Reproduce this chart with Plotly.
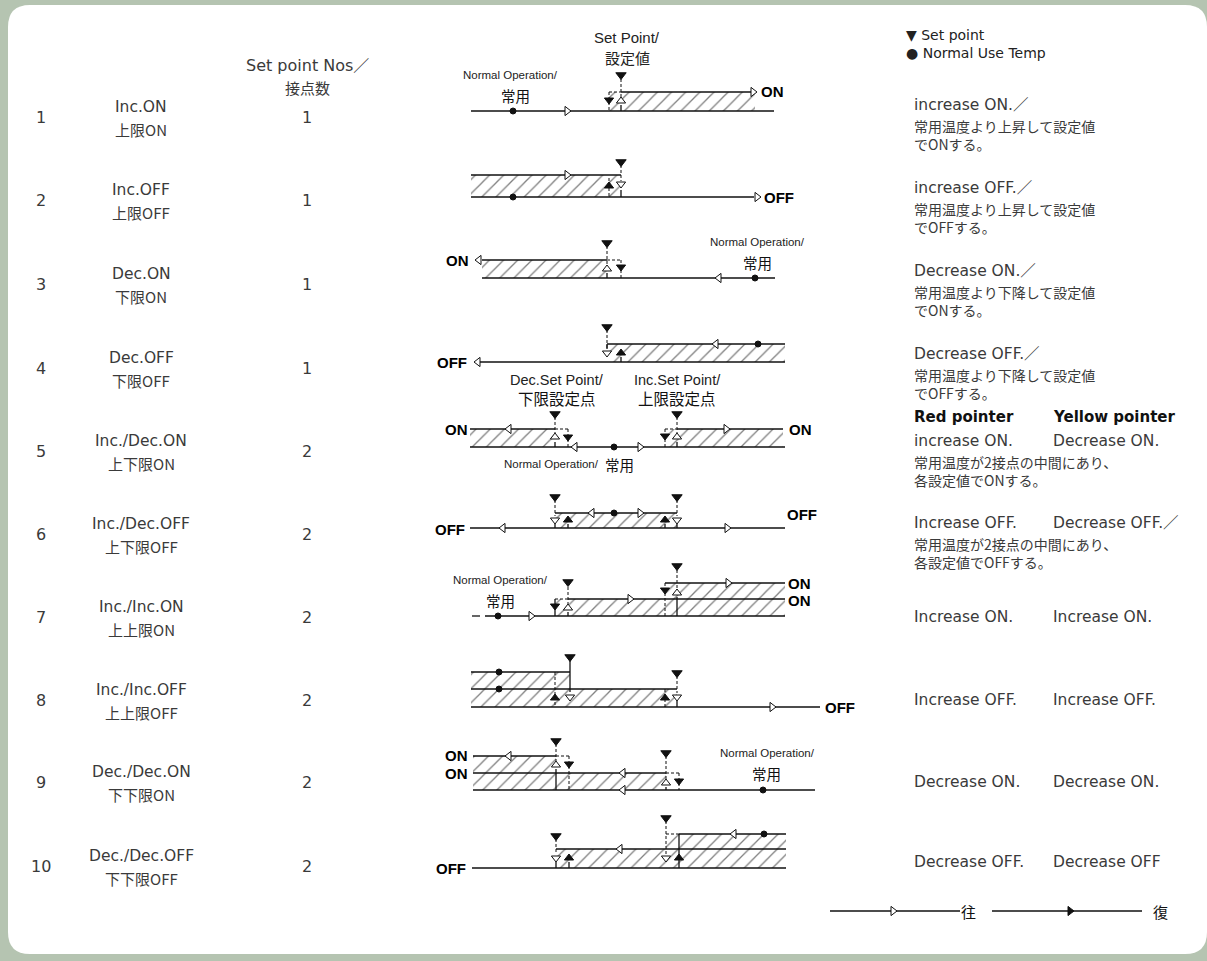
import plotly.graph_objects as go

# ---------------- table data ----------------
row_nos = [1, 2, 3, 4, 5, 6, 7, 8, 9, 10]
row_y = [117, 200, 284, 368, 451, 534, 617, 700, 782, 866]
mode_en = ["Inc.ON", "Inc.OFF", "Dec.ON", "Dec.OFF", "Inc./Dec.ON", "Inc./Dec.OFF",
           "Inc./Inc.ON", "Inc./Inc.OFF", "Dec./Dec.ON", "Dec./Dec.OFF"]
mode_jp = ["上限ON", "上限OFF", "下限ON", "下限OFF", "上下限ON", "上下限OFF",
           "上上限ON", "上上限OFF", "下下限ON", "下下限OFF"]
setpoint_counts = [1, 1, 1, 1, 2, 2, 2, 2, 2, 2]

desc_en_a = ["increase ON.／", "increase OFF.／", "Decrease ON.／", "Decrease OFF.／",
             "increase ON.", "Increase OFF.", "Increase ON.", "Increase OFF.",
             "Decrease ON.", "Decrease OFF."]
desc_en_b = ["", "", "", "", "Decrease ON.", "Decrease OFF.／", "Increase ON.",
             "Increase OFF.", "Decrease ON.", "Decrease OFF"]
desc_jp1 = ["常用温度より上昇して設定値", "常用温度より上昇して設定値", "常用温度より下降して設定値",
            "常用温度より下降して設定値", "常用温度が2接点の中間にあり、", "常用温度が2接点の中間にあり、",
            "", "", "", ""]
desc_jp2 = ["でONする。", "でOFFする。", "でONする。", "でOFFする。", "各設定値でONする。",
            "各設定値でOFFする。", "", "", "", ""]

# ---------------- diagram geometry (schematic, pixel units) ----------------
hatch_boxes = [  # x0, x1, ytop, ybot
    (609, 755, 92, 111),
    (471, 621, 175, 197),
    (482, 607, 260, 278),
    (607, 785, 344, 362),
    (470, 555, 429, 447), (665, 783, 429, 447),
    (555, 677, 513, 528),
    (555, 785, 599, 616), (665, 785, 583, 599),
    (471, 570, 672, 689), (471, 677, 689, 707),
    (473, 556, 756, 773), (473, 666, 773, 790),
    (666, 786, 834, 849), (556, 786, 849, 868),
]
solid_segs = [
    (471, 111, 774, 111), (621, 92, 752, 92), (621, 105, 621, 111),
    (471, 197, 754, 197), (471, 175, 621, 175), (621, 190, 621, 197),
    (482, 278, 775, 278), (482, 260, 607, 260), (607, 273, 607, 278),
    (478, 362, 785, 362), (607, 344, 785, 344), (621, 357, 621, 362), (607, 344, 607, 349),
    (470, 447, 785, 447), (470, 429, 555, 429), (555, 442, 555, 447),
    (677, 429, 783, 429), (677, 442, 677, 447),
    (470, 528, 785, 528), (555, 513, 677, 513), (568, 524, 568, 528), (665, 524, 665, 528),
    (555, 524, 555, 528), (677, 524, 677, 528),
    (472, 616, 480, 616), (485, 616, 785, 616), (568, 599, 785, 599), (665, 583, 785, 583),
    (555, 599, 555, 616), (568, 612, 568, 616), (677, 597, 677, 616),
    (471, 707, 820, 707), (471, 672, 570, 672), (570, 660, 570, 692), (471, 689, 677, 689),
    (677, 701, 677, 707),
    (473, 790, 815, 790), (473, 756, 556, 756), (473, 773, 666, 773), (556, 769, 556, 790),
    (666, 787, 666, 790),
    (472, 868, 786, 868), (679, 834, 786, 834), (556, 849, 786, 849), (569, 862, 569, 868),
    (679, 834, 679, 868), (556, 862, 556, 868),
    (830, 911, 960, 911), (992, 911, 1142, 911),
]
dashed_segs = [
    (621, 79, 621, 97), (609, 92, 621, 92), (609, 92, 609, 111),
    (621, 165, 621, 181), (609, 178, 609, 197),
    (607, 246, 607, 265), (607, 260, 621, 260), (621, 260, 621, 278),
    (607, 330, 607, 349),
    (555, 417, 555, 433), (555, 429, 568, 429), (568, 429, 568, 447),
    (677, 417, 677, 433), (665, 429, 677, 429), (665, 429, 665, 447),
    (555, 500, 555, 516), (677, 500, 677, 516),
    (555, 599, 568, 599), (568, 587, 568, 604), (677, 570, 677, 589), (665, 583, 665, 616),
    (555, 672, 555, 707), (665, 689, 665, 707), (677, 676, 677, 693),
    (556, 744, 556, 761), (556, 756, 569, 756), (569, 756, 569, 790),
    (666, 756, 666, 779), (666, 773, 679, 773), (679, 773, 679, 790),
    (666, 821, 666, 854), (666, 834, 679, 834), (556, 839, 556, 854),
]
setpoint_marks = [(621, 75), (621, 162), (607, 243), (607, 327), (555, 414), (677, 414),
                  (555, 497), (677, 497), (568, 582), (677, 566), (570, 657), (677, 673),
                  (556, 741), (666, 753), (556, 836), (666, 818)]
going_up = [(621, 101), (607, 269), (555, 437), (677, 437), (568, 608), (677, 593),
            (556, 765), (666, 783)]                       # open up triangles
going_down = [(621, 184), (607, 353), (555, 520), (677, 520), (570, 697), (677, 697),
              (556, 858), (666, 858)]                     # open down triangles
return_down = [(609, 100), (621, 267), (568, 437), (665, 436), (555, 606), (665, 590),
               (569, 764), (679, 781)]                    # filled small down
return_up = [(609, 186), (621, 353), (568, 520), (665, 520), (555, 698), (665, 698),
             (569, 858), (679, 858)]                      # filled small up
flow_right = [(567, 111), (753, 92), (567, 175), (757, 197), (640, 447), (726, 429),
              (640, 513), (727, 528), (531, 616), (630, 599), (728, 583), (772, 707),
              (893, 911)]
flow_left = [(479, 260), (719, 278), (716, 344), (478, 362), (509, 429), (575, 447),
             (592, 513), (503, 528), (509, 756), (623, 773), (623, 790), (620, 849),
             (734, 834)]
normal_temp = [(513, 111), (513, 197), (755, 278), (758, 344), (614, 447), (614, 513),
               (498, 616), (499, 672), (499, 689), (763, 790), (764, 834)]
return_legend = [(1070, 911)]

state_labels = [("ON", 772, 91), ("OFF", 779, 197), ("ON", 457, 260), ("OFF", 452, 362),
                ("ON", 456, 429), ("ON", 800, 429), ("OFF", 450, 529), ("OFF", 802, 514),
                ("ON", 799, 583), ("ON", 799, 600), ("OFF", 840, 707),
                ("ON", 456, 755), ("ON", 456, 773), ("OFF", 451, 868)]
normal_op_labels = [(510, 75, 515, 95), (757, 242, 757, 262), (500, 580, 500, 600),
                    (767, 753, 766, 773)]

fig = go.Figure()

# rounded white panel
L, T, R, B, rr = 8, 5, 1207, 954, 22
panel = (f"M {L+rr},{T} L {R-rr},{T} Q {R},{T} {R},{T+rr} L {R},{B-rr} Q {R},{B} {R-rr},{B} "
         f"L {L+rr},{B} Q {L},{B} {L},{B-rr} L {L},{T+rr} Q {L},{T} {L+rr},{T} Z")
fig.add_shape(type="path", path=panel, xref="x", yref="y", fillcolor="white",
              line=dict(width=0), layer="below")

# hatched areas
for (x0, x1, yt, yb) in hatch_boxes:
    fig.add_trace(go.Scatter(x=[x0, x1, x1, x0, x0], y=[yt, yt, yb, yb, yt], mode="lines",
                             fill="toself", line=dict(width=0), fillcolor="white",
                             fillpattern=dict(shape="/", size=10, solidity=0.13,
                                              fgcolor="#000", bgcolor="white"),
                             hoverinfo="skip", showlegend=False))


def seg_xy(segs):
    xs, ys = [], []
    for (a, b, c, d) in segs:
        xs += [a, c, None]
        ys += [b, d, None]
    return xs, ys


xs, ys = seg_xy(solid_segs)
fig.add_trace(go.Scatter(x=xs, y=ys, mode="lines", line=dict(color="#111", width=1.3),
                         hoverinfo="skip", showlegend=False))
xs, ys = seg_xy(dashed_segs)
fig.add_trace(go.Scatter(x=xs, y=ys, mode="lines", line=dict(color="#111", width=1, dash="3px,2px"),
                         hoverinfo="skip", showlegend=False))


def add_marks(pts, symbol, size, color="#111", fill="#111", lw=1):
    fig.add_trace(go.Scatter(x=[p[0] for p in pts], y=[p[1] for p in pts], mode="markers",
                             marker=dict(symbol=symbol, size=size, color=fill,
                                         line=dict(color=color, width=lw)),
                             hoverinfo="skip", showlegend=False))


add_marks(setpoint_marks, "triangle-down", 9)
add_marks(going_up, "triangle-up", 8, fill="white")
add_marks(going_down, "triangle-down", 8, fill="white")
add_marks(return_down, "triangle-down", 8)
add_marks(return_up, "triangle-up", 8)
add_marks(flow_right, "triangle-right", 8, fill="white")
add_marks(flow_left, "triangle-left", 8, fill="white")
add_marks(normal_temp, "circle", 6)
add_marks(return_legend, "triangle-right", 8)

TXT = "#3a3a3a"
FONT = "DejaVu Sans, Noto Sans CJK JP, sans-serif"
JP = "Noto Sans CJK JP, sans-serif"
NARROW = "Liberation Sans Narrow, Liberation Sans, sans-serif"
HELV = "Liberation Sans, Arial, sans-serif"


def txt(x, y, s, size, anchor="center", color=TXT, family=FONT, weight="normal"):
    fig.add_annotation(x=x, y=y, xref="x", yref="y", text=s, showarrow=False,
                       xanchor=anchor, yanchor="middle", align=anchor if anchor != "center" else "center",
                       font=dict(size=size, color=color, family=family, weight=weight))


# header
txt(307, 65, "Set point Nos／", 16)
txt(307, 87, "接点数", 15, family=JP)
txt(627, 37, "Set Point/", 15, color="#222", family=HELV)
txt(627, 57, "設定値", 15, color="#222", family=JP)
txt(904, 44, "▼ Set point<br>● Normal Use Temp", 14, anchor="left", color="#222")

# left table
for i in range(len(row_nos)):
    y = row_y[i]
    txt(41, y, str(row_nos[i]), 16)
    txt(141, y - 10, mode_en[i], 15.5)
    txt(141, y + 12, mode_jp[i], 15, family=JP)
    txt(307, y, str(setpoint_counts[i]), 16)

# descriptions
desc_y = [105, 188, 271, 354, 441, 523, 617, 700, 782, 862]
for i in range(len(row_nos)):
    y = desc_y[i]
    txt(912, y, desc_en_a[i], 15.5, anchor="left")
    if desc_en_b[i]:
        txt(1051, y, desc_en_b[i], 15.5, anchor="left")
    if desc_jp1[i]:
        txt(912, y + 30, desc_jp1[i] + "<br>" + desc_jp2[i], 14, anchor="left", family=JP)
txt(912, 417, "Red pointer", 15, anchor="left", color="#111", weight="bold")
txt(1051, 417, "Yellow pointer", 15, anchor="left", color="#111", weight="bold")

# diagram labels
for (s, x, y) in state_labels:
    txt(x, y, s, 15, color="#000", family=HELV, weight="bold")
for (x1, y1, x2, y2) in normal_op_labels:
    txt(x1, y1, "Normal Operation/", 11.5, color="#222", family=NARROW)
    txt(x2, y2, "常用", 14.5, color="#111", family=JP)
txt(557, 380, "Dec.Set Point/", 14.5, color="#222", family=NARROW)
txt(557, 398, "下限設定点", 15.5, color="#111", family=JP)
txt(677, 380, "Inc.Set Point/", 14.5, color="#222", family=NARROW)
txt(677, 398, "上限設定点", 15.5, color="#111", family=JP)
txt(601, 464, "Normal Operation/", 11.5, color="#222", family=NARROW, anchor="right")
txt(603, 464, "常用", 14.5, color="#111", family=JP, anchor="left")
txt(968, 911, "往", 15, color="#111", family=JP)
txt(1160, 911, "復", 15, color="#111", family=JP)

fig.update_layout(
    width=1207, height=961, margin=dict(l=0, r=0, t=0, b=0),
    paper_bgcolor="#b5c4b1", plot_bgcolor="rgba(0,0,0,0)",
    xaxis=dict(range=[0, 1207], visible=False, fixedrange=True),
    yaxis=dict(range=[961, 0], visible=False, fixedrange=True),
    showlegend=False,
)
fig.write_html("out.html", config={"displayModeBar": False},
               post_script="document.body.style.margin='0';document.body.style.overflow='hidden';")
